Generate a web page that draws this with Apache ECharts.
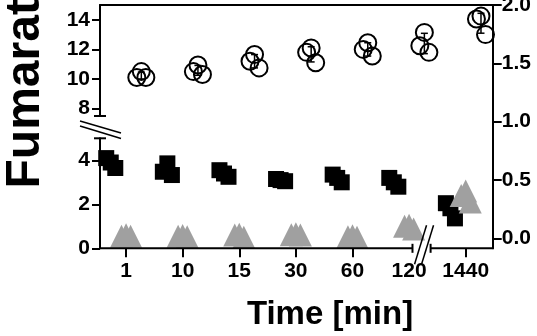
<!DOCTYPE html>
<html><head><meta charset="utf-8">
<script src="https://cdn.jsdelivr.net/npm/echarts@6/dist/echarts.min.js"></script>
<style>html,body{margin:0;padding:0;background:#fff}#c{width:537px;height:336px}</style>
</head><body><div id="c"></div>
<script>
// ---- data ----
const timeLabels = ['1', '10', '15', '30', '60', '120', '1440'];
const circleRepA = [10.1, 10.5, 11.2, 11.8, 12.0, 12.25, 14.05];
const circleRepB = [10.5, 10.95, 11.65, 12.1, 12.45, 13.15, 14.25];
const circleRepC = [10.1, 10.3, 10.75, 11.1, 11.55, 11.8, 13.0];
const squareRepA = [4.1, 3.48, 3.55, 3.15, 3.35, 3.2, 2.05];
const squareRepB = [3.9, 3.86, 3.4, 3.1, 3.2, 3.0, 1.82];
const squareRepC = [3.65, 3.33, 3.25, 3.05, 3.0, 2.8, 1.36];
const triRepA = [0.55, 0.55, 0.6, 0.62, 0.52, 1.0, 2.4];
const triRepB = [0.62, 0.58, 0.64, 0.66, 0.57, 1.05, 2.6];
const triRepC = [0.55, 0.52, 0.5, 0.6, 0.5, 0.88, 2.1];
const upperTicks = [8, 10, 12, 14];
const lowerTicks = [0, 2, 4];
const rightTicks = [0, 0.5, 1, 1.5, 2];
const xTickIdx = [0, 1, 2, 3, 4, 6];
const xLabelIdx = [0, 1, 2, 3, 4, 5, 6];

// ---- layout / style ----
const FONT = '"Liberation Sans", Arial, Helvetica, sans-serif';
const X_MIN = -0.46, X_MAX = 6.477;
const DODGE = {square: -0.27, triangle: 0, circle: 0.27};
const JITTER = [-0.08, 0, 0.08];

function points(reps, dodge) {
  const out = [];
  reps.forEach((rep, r) => rep.forEach((v, i) => out.push([i + dodge + JITTER[r], v])));
  return out;
}
function stats(reps, dodge) {
  return timeLabels.map((_, i) => {
    const vals = reps.map(r => r[i]);
    const m = vals.reduce((a, b) => a + b, 0) / vals.length;
    const sd = Math.sqrt(vals.reduce((a, b) => a + (b - m) * (b - m), 0) / (vals.length - 1));
    return [i + dodge, m, m - sd, m + sd];
  });
}

const chart = echarts.init(document.getElementById('c'), null, {renderer: 'canvas'});
const axisLineStyle = {color: '#000', width: 2};
const tickStyle = {color: '#000', width: 2};
const labelStyle = {color: '#000', fontFamily: FONT, fontWeight: 'bold', fontSize: 21};

const option = {
  animation: false,
  backgroundColor: '#fff',
  grid: [
    {left: 100, width: 392.7, top: 5, height: 111, outerBoundsMode: 'none'},
    {left: 100, width: 392.7, top: 138.3, height: 110, outerBoundsMode: 'none'},
    {left: 100, width: 392.7, top: 5, height: 243.3, outerBoundsMode: 'none'}
  ],
  xAxis: [
    {gridIndex: 0, type: 'value', position: 'top', min: X_MIN, max: X_MAX,
      axisLine: {show: true, onZero: false, lineStyle: axisLineStyle},
      axisTick: {show: false}, axisLabel: {show: false}, splitLine: {show: false}},
    {gridIndex: 1, type: 'value', position: 'bottom', min: X_MIN, max: X_MAX,
      axisLine: {show: false, onZero: false},
      axisTick: {show: true, length: 9, lineStyle: tickStyle, customValues: xTickIdx},
      axisLabel: Object.assign({}, labelStyle, {margin: 12, customValues: xLabelIdx,
        formatter: v => timeLabels[Math.round(v)]}),
      splitLine: {show: false}},
    {gridIndex: 2, type: 'value', min: X_MIN, max: X_MAX, show: false}
  ],
  yAxis: [
    {gridIndex: 0, type: 'value', min: 7.5, max: 15,
      axisLine: {show: true, onZero: false, lineStyle: axisLineStyle},
      axisTick: {show: true, length: 8, lineStyle: tickStyle, customValues: upperTicks},
      axisLabel: Object.assign({}, labelStyle, {margin: 10, customValues: upperTicks}),
      splitLine: {show: false}},
    {gridIndex: 1, type: 'value', min: 0, max: 5,
      axisLine: {show: true, onZero: false, lineStyle: axisLineStyle},
      axisTick: {show: true, length: 8, lineStyle: tickStyle, customValues: lowerTicks},
      axisLabel: Object.assign({}, labelStyle, {margin: 10, customValues: lowerTicks}),
      splitLine: {show: false}},
    {gridIndex: 2, type: 'value', position: 'right', min: -0.0856, max: 2.0,
      axisLine: {show: true, onZero: false, lineStyle: axisLineStyle},
      axisTick: {show: true, length: 9, lineStyle: tickStyle, customValues: rightTicks},
      axisLabel: Object.assign({}, labelStyle, {margin: 9, customValues: rightTicks,
        formatter: v => Number(v).toFixed(1)}),
      splitLine: {show: false}}
  ],
  series: [
    {type: 'scatter', xAxisIndex: 1, yAxisIndex: 1, symbol: 'rect', symbolSize: 16,
      itemStyle: {color: '#000', opacity: 1}, data: points([squareRepA, squareRepB, squareRepC], DODGE.square), z: 3},
    {type: 'scatter', xAxisIndex: 1, yAxisIndex: 1, symbol: 'triangle', symbolSize: [23, 23],
      itemStyle: {color: '#a0a0a0', opacity: 1}, data: points([triRepA, triRepB, triRepC], DODGE.triangle), z: 4},
    {type: 'scatter', xAxisIndex: 0, yAxisIndex: 0, symbol: 'circle', symbolSize: 17,
      itemStyle: {color: 'rgba(0,0,0,0)', borderColor: '#000', borderWidth: 2, opacity: 1},
      data: points([circleRepA, circleRepB, circleRepC], DODGE.circle), z: 4},
    {type: 'custom', xAxisIndex: 0, yAxisIndex: 0, z: 5,
      data: stats([circleRepA, circleRepB, circleRepC], DODGE.circle),
      encode: {x: 0, y: 1},
      renderItem: (params, api) => {
        const x = api.coord([api.value(0), api.value(1)])[0];
        const lo = api.coord([api.value(0), api.value(2)])[1];
        const hi = api.coord([api.value(0), api.value(3)])[1];
        const hw = 3.5, st = {stroke: '#000', lineWidth: 1.5};
        return {type: 'group', children: [
          {type: 'line', shape: {x1: x, y1: lo, x2: x, y2: hi}, style: st},
          {type: 'line', shape: {x1: x - hw, y1: lo, x2: x + hw, y2: lo}, style: st},
          {type: 'line', shape: {x1: x - hw, y1: hi, x2: x + hw, y2: hi}, style: st}
        ]};
      }}
  ]
};
chart.setOption(option);

// ---- axis breaks and titles, positioned from the axes ----
const px = v => chart.convertToPixel({xAxisIndex: 1}, v);
const py = (i, v) => chart.convertToPixel({yAxisIndex: i}, v);
const yB = py(1, 0), xL = px(X_MIN), xR = px(X_MAX);
const bL = px(5.06), bR = px(5.38), cx = (bL + bR) / 2;
const yUb = py(0, 7.5), yLt = py(1, 5), ax = xL;
const L = (x1, y1, x2, y2, w) => ({type: 'line', silent: true, z: 100,
  shape: {x1, y1, x2, y2}, style: {stroke: '#000', lineWidth: w || 2}});
chart.setOption({graphic: [
  L(xL - 1, yB, bL, yB), L(bR, yB, xR + 1, yB),
  L(bL, yB - 4.5, bL, yB + 4.5), L(bR, yB - 4.5, bR, yB + 4.5),
  L(cx + 5, yB - 23, cx - 7, yB + 16, 1.5), L(cx + 12, yB - 23, cx, yB + 16, 1.5),
  L(ax - 6, yUb, ax + 6, yUb), L(ax - 6, yLt, ax + 6, yLt),
  L(ax - 20, yUb + 5, ax + 21, yUb + 17, 1.5), L(ax - 20, yUb + 10, ax + 21, yUb + 22.5, 1.5),
  {type: 'text', x: 25.5, y: 188.5, rotation: Math.PI / 2, z: 100, silent: true,
    style: {text: 'Fumarate', font: 'bold 48px ' + FONT, fill: '#000',
      align: 'left', verticalAlign: 'middle', textAlign: 'left', textVerticalAlign: 'middle'}},
  {type: 'text', x: 330, y: 315.3, z: 100, silent: true,
    style: {text: 'Time [min]', font: 'bold 33px ' + FONT, fill: '#000',
      align: 'center', verticalAlign: 'middle', textAlign: 'center', textVerticalAlign: 'middle'}}
]});
</script>
</body></html>
